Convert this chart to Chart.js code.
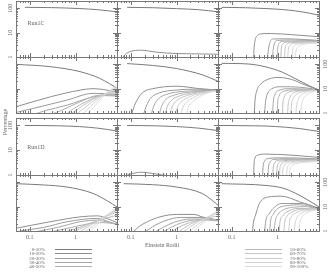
<!DOCTYPE html>
<html>
<head>
<meta charset="utf-8">
<script src="https://cdn.jsdelivr.net/npm/chart.js@4.4.0/dist/chart.umd.min.js"></script>
<style>
  body { margin: 0; width: 329px; height: 273px; background: #fff; position: relative; overflow: hidden;
         font-family: "Liberation Serif", serif; color: #666; }
  canvas { position: absolute; }
  .t { position: absolute; white-space: nowrap; line-height: 1; transform: translate(-50%, -50%); }
  .leg { position: absolute; height: 0; border-top: 1px solid #999; }
</style>
</head>
<body>
<script>
// ---- data ----
const seriesLabels = ["0-10%", "10-20%", "20-30%", "30-40%", "40-50%",
                      "50-60%", "60-70%", "70-80%", "80-90%", "90-100%"];
const seriesColors = ["#7a7a7a", "#8e8e8e", "#9a9a9a", "#a5a5a5", "#afafaf",
                      "#b9b9b9", "#c3c3c3", "#cbcbcb", "#d3d3d3", "#dadada"];
const runLabels = ["Run1C", "Run1D"];
const xTicks = [0.1, 1];
const xTickLabels = ["0.1", "1"];
const yTicks = [1, 10, 100];
const yTickLabels = ["1", "10", "100"];
const xRange = [0.05, 8];
const yRange = [1, 200];

// each panel: 10 series, each a list of [einstein radii, percentage]
const run1C_upper_a = [
  [[0.078,110],[0.3,107],[1.2,98],[3,88],[8,72]],
  [], [], [], [], [], [], [], [], []
];
const run1C_upper_b = [
  [[0.083,110],[0.3,106],[1,97],[3,88],[8,72]],
  [[0.065,0.9],[0.08,1.4],[0.17,1.9],[0.35,1.6],[0.6,1.45],[2,1.35],[8,1.3]],
  [], [], [], [], [], [], [], []
];
const run1C_upper_c = [
  [[0.06,110],[0.2,106],[0.53,98],[1.2,90],[2.5,78],[5,63],[8,52]],
  [[0.3,0.9],[0.305,2],[0.32,4.5],[0.36,7.5],[0.45,9],[0.7,9.2],[2,8.3],[8,6.8]],
  [[0.6,0.8],[0.63,2],[0.68,4],[0.8,5.5],[1.5,5.6],[4,5.2],[8,4.8]],
  [[0.77,0.8],[0.8,2],[0.86,3.8],[1,4.8],[2,5],[8,4.6]],
  [[0.97,0.8],[1,2],[1.08,3.6],[1.3,4.4],[3,4.5],[8,4.4]],
  [[1.17,0.8],[1.2,2],[1.3,3.4],[1.6,4.1],[4,4.3],[8,4.2]],
  [[1.42,0.8],[1.45,1.9],[1.57,3.2],[2,3.9],[8,4.1]],
  [[1.66,0.8],[1.7,1.8],[1.85,3],[2.4,3.7],[8,4]],
  [[2.05,0.8],[2.1,1.7],[2.3,2.8],[3,3.5],[8,3.9]],
  [[2.45,0.8],[2.5,1.6],[2.8,2.6],[3.6,3.3],[8,3.8]]
];
const run1C_lower_a = [
  [[0.05,100],[0.28,80],[1.25,50],[3.3,27],[5.5,16],[8,10.5]],
  [[0.05,1.8],[0.28,4.6],[1.25,8.7],[2.4,10],[4,9.2],[8,7.4]],
  [[0.05,1.05],[0.12,1.55],[0.65,3.4],[2.4,6.4],[4,6.3],[8,5.4]],
  [[0.13,0.9],[0.2,1.2],[0.65,2.1],[2.4,4.6],[4,5.2],[8,5]],
  [[0.3,0.9],[0.5,1.3],[1.25,2.9],[3.3,5.4],[8,5.6]],
  [[0.62,0.9],[0.9,1.5],[2,3.4],[4,5.6],[8,6.3]],
  [[0.78,0.9],[1.2,1.6],[2.5,3.8],[4.5,6.2],[8,7.5]],
  [[1.05,0.9],[1.6,1.7],[3,4],[5,7],[8,9]],
  [[1.4,0.9],[2.1,1.8],[3.5,4.4],[5.5,8],[8,11.5]],
  [[1.8,0.9],[2.6,1.9],[4,4.8],[6,9.5],[8,14]]
];
const run1C_lower_b = [
  [[0.083,107],[0.3,90],[1,67],[3.8,36],[8,20]],
  [[0.105,0.9],[0.12,2],[0.15,4.5],[0.19,7.4],[0.3,10],[1,12.6],[3.2,10],[8,8.7]],
  [[0.19,0.9],[0.22,2],[0.27,4],[0.4,6.5],[1,8.8],[3,9.5],[8,8.6]],
  [[0.28,0.9],[0.32,2],[0.4,3.8],[0.6,5.8],[1.5,7.8],[8,8.5]],
  [[0.42,0.9],[0.47,1.9],[0.58,3.6],[0.88,5.4],[2,7.3],[8,8.4]],
  [[0.56,0.9],[0.63,1.9],[0.78,3.4],[1.15,5],[2.5,7],[8,8.3]],
  [[0.72,0.9],[0.8,1.8],[1,3.2],[1.5,4.8],[3,6.8],[8,8.2]],
  [[0.95,0.9],[1.05,1.8],[1.3,3],[1.9,4.6],[3.5,6.7],[8,8.2]],
  [[1.25,0.9],[1.38,1.7],[1.7,2.9],[2.4,4.5],[4,6.6],[8,8.3]],
  [[1.65,0.9],[1.8,1.7],[2.2,2.8],[3,4.4],[4.6,6.6],[8,8.5]]
];
const run1C_lower_c = [
  [[0.06,110],[0.25,102],[0.53,80],[1.25,48],[2.5,25],[5,13],[8,8.5]],
  [[0.31,0.9],[0.32,3],[0.35,8],[0.42,15],[0.55,22],[1,29],[2,24],[4,14],[8,9]],
  [[0.52,0.9],[0.54,2.5],[0.6,6],[0.75,10],[1.2,12],[3,11.5],[8,9]],
  [[0.78,0.9],[0.8,2.5],[0.87,5.5],[1.05,8.5],[2,10],[8,9]],
  [[0.98,0.9],[1,2.4],[1.08,5],[1.3,7.5],[2.5,9],[8,8.9]],
  [[1.27,0.9],[1.3,2.3],[1.4,4.6],[1.7,7],[3,8.5],[8,8.8]],
  [[1.65,0.9],[1.7,2.2],[1.85,4.3],[2.2,6.6],[3.6,8.2],[8,8.8]],
  [[1.95,0.9],[2,2.1],[2.2,4],[2.7,6.2],[4.2,8],[8,8.7]],
  [[2.5,0.9],[2.6,2],[2.85,3.8],[3.4,5.8],[5,7.8],[8,8.6]],
  [[3.2,0.9],[3.3,1.9],[3.6,3.6],[4.3,5.5],[6,7.5],[8,8.4]]
];
const run1D_upper_a = [
  [[0.078,100],[0.4,97],[1.2,90],[3,78],[8,60]],
  [], [], [], [], [], [], [], [], []
];
const run1D_upper_b = [
  [[0.083,100],[0.4,96],[1,90],[3,78],[8,62]],
  [[0.07,0.9],[0.1,1.1],[0.17,1.3],[0.3,1.15],[0.5,1.0],[0.8,0.9]],
  [], [], [], [], [], [], [], []
];
const run1D_upper_c = [
  [[0.06,100],[0.3,97],[0.53,95],[1.5,85],[3,75],[8,57]],
  [[0.3,0.9],[0.305,2.5],[0.32,4.8],[0.37,6.3],[0.5,7],[1,6.8],[3,6],[8,5.1]],
  [[0.47,0.9],[0.48,2],[0.52,3.6],[0.62,4.6],[1,4.9],[3,4.8],[8,4.4]],
  [[0.62,0.9],[0.63,1.9],[0.68,3.3],[0.8,4.2],[1.5,4.5],[8,4.2]],
  [[0.79,0.9],[0.8,1.8],[0.86,3.1],[1,3.9],[2,4.2],[8,4.1]],
  [[0.95,0.9],[0.97,1.8],[1.04,2.9],[1.2,3.6],[2.5,4],[8,4]],
  [[1.1,0.9],[1.12,1.7],[1.2,2.7],[1.4,3.4],[3,3.9],[8,3.9]],
  [[1.28,0.9],[1.3,1.6],[1.4,2.5],[1.65,3.2],[3.5,3.7],[8,3.8]],
  [[1.57,0.9],[1.6,1.6],[1.72,2.4],[2,3],[4,3.5],[8,3.7]],
  [[1.82,0.9],[1.85,1.5],[2,2.2],[2.4,2.8],[4.5,3.3],[8,3.6]]
];
const run1D_lower_a = [
  [[0.05,88],[0.2,78],[0.65,64],[2.4,35],[5,17],[8,9.8]],
  [[0.05,1.3],[0.28,2.4],[1.25,3.8],[3,4.2],[5,3.2],[8,2.2]],
  [[0.06,1.0],[0.2,1.4],[0.65,2.4],[3,3.3],[5,2.5],[8,1.8]],
  [[0.14,0.95],[0.4,1.4],[1.25,2.4],[3,2.8],[5,2.3],[8,1.9]],
  [[0.32,0.95],[0.8,1.4],[2.4,2.1],[4,2.2],[8,2]],
  [[0.65,0.95],[1.2,1.4],[2.5,2.4],[5,3.5],[8,4.5]],
  [[0.88,0.95],[1.6,1.5],[3,2.8],[5.5,4.5],[8,6]],
  [[1.25,0.95],[2,1.6],[3.5,3.2],[6,5.5],[8,7]],
  [[1.6,0.95],[2.5,1.7],[4,3.6],[6.5,6.5],[8,8.5]],
  [[2,0.95],[3,1.8],[4.5,4],[7,7.5],[8,9.5]]
];
const run1D_lower_b = [
  [[0.07,88],[0.3,80],[1,64],[3.6,35],[6,18],[8,11.5]],
  [[0.115,0.95],[0.15,1.5],[0.23,2.4],[0.43,3.8],[1,4.8],[2.4,4.8],[3.6,3.8],[8,2.8]],
  [[0.21,0.95],[0.3,1.5],[0.55,2.6],[1.2,3.6],[3,3.6],[8,2.8]],
  [[0.35,0.95],[0.5,1.4],[0.9,2.3],[2,3.1],[4,3.1],[8,2.7]],
  [[0.53,0.95],[0.75,1.4],[1.3,2.2],[3,2.9],[8,2.6]],
  [[0.78,0.95],[1.1,1.4],[1.9,2.2],[4,2.9],[8,2.9]],
  [[1.15,0.95],[1.6,1.5],[2.6,2.4],[5,3.6],[8,4]],
  [[1.45,0.95],[2,1.5],[3.2,2.6],[5.5,4.2],[8,5.2]],
  [[1.9,0.95],[2.6,1.6],[4,2.8],[6,4.8],[8,6.4]],
  [[2.4,0.95],[3.2,1.7],[4.8,3],[6.8,5.5],[8,7.5]]
];
const run1D_lower_c = [
  [[0.06,88],[0.53,75],[1.3,58],[2.5,35],[5,17],[8,9.8]],
  [[0.28,0.9],[0.3,2.5],[0.33,4.5],[0.4,13.5],[0.63,25],[1.2,27],[3,16],[8,8.4]],
  [[0.52,0.9],[0.55,2.5],[0.65,5],[0.8,8.4],[1.2,13.5],[3.5,13.5],[8,8.4]],
  [[0.67,0.9],[0.7,2.5],[0.8,4.8],[1,8.4],[1.6,11],[3,12],[8,8.2]],
  [[0.84,0.9],[0.88,2.3],[1,4.5],[1.3,7.2],[2.2,9.5],[4,10],[8,8]],
  [[1.08,0.9],[1.12,2.2],[1.3,4.3],[1.6,6.1],[2.8,8.5],[8,7.9]],
  [[1.37,0.9],[1.42,2.1],[1.6,4],[2,5.8],[3.3,7.8],[8,7.8]],
  [[1.75,0.9],[1.8,2],[2,3.8],[2.5,5.5],[4,7.4],[8,7.8]],
  [[2.3,0.9],[2.4,1.9],[2.65,3.6],[3.2,5.2],[4.8,7],[8,7.7]],
  [[2.9,0.9],[3,1.8],[3.3,3.4],[4,5],[5.6,6.8],[8,7.6]]
];

const panels = [
  [run1C_upper_a, run1C_upper_b, run1C_upper_c],
  [run1C_lower_a, run1C_lower_b, run1C_lower_c],
  [run1D_upper_a, run1D_upper_b, run1D_upper_c],
  [run1D_lower_a, run1D_lower_b, run1D_lower_c]
];

// ---- layout ----
const M = 12;
const colL = [16, 117, 218], colW = 101;
const rowT = [1, 57, 118, 175], rowH = [56, 56, 57, 56];
const tickFont = '6px "Liberation Serif"';

// frame, inward ticks and tick labels, all placed through the chart's scales
const axesFrame = {
  id: "axesFrame",
  afterDraw(chart, args, o) {
    const { ctx, chartArea: a, scales: { x, y } } = chart;
    ctx.save();
    ctx.strokeStyle = "#777";
    ctx.lineWidth = 1;
    ctx.strokeRect(a.left + 0.5, a.top + 0.5, a.right - a.left, a.bottom - a.top);

    const marks = [];
    for (let e = -2; e <= 2; e++)
      for (let m = 1; m <= 9; m++) marks.push({ v: m * Math.pow(10, e), major: m === 1 });

    ctx.beginPath();
    marks.forEach(({ v, major }) => {
      const len = major ? 4 : 2;
      if (v >= xRange[0] * 0.999 && v <= xRange[1] * 1.001) {
        const px = Math.round(x.getPixelForValue(v)) + 0.5;
        ctx.moveTo(px, a.bottom); ctx.lineTo(px, a.bottom - len);
        ctx.moveTo(px, a.top); ctx.lineTo(px, a.top + len);
      }
      if (v >= yRange[0] * 0.999 && v <= yRange[1] * 1.001) {
        const py = Math.round(y.getPixelForValue(v)) + 0.5;
        ctx.moveTo(a.left, py); ctx.lineTo(a.left + len, py);
        ctx.moveTo(a.right, py); ctx.lineTo(a.right - len, py);
      }
    });
    ctx.stroke();

    ctx.fillStyle = "#666";
    ctx.font = tickFont;
    ctx.textAlign = "center";
    ctx.textBaseline = "middle";
    if (o.yLabels) {
      const lx = o.yLabels === "left" ? a.left - 6 : a.right + 6;
      yTicks.forEach((v, i) => {
        const py = y.getPixelForValue(v);
        ctx.save();
        ctx.translate(lx, py);
        ctx.rotate(-Math.PI / 2);
        ctx.fillText(yTickLabels[i], 0, 0);
        ctx.restore();
      });
    }
    if (o.xLabels) {
      xTicks.forEach((v, i) => {
        ctx.fillText(xTickLabels[i], x.getPixelForValue(v), a.bottom + 6);
      });
    }
    ctx.restore();
  }
};

const yLabelSide = [["left", null, null], [null, null, "right"], ["left", null, null], [null, null, "right"]];

panels.forEach((row, r) => {
  row.forEach((series, c) => {
    const cv = document.createElement("canvas");
    cv.width = colW + 2 * M;
    cv.height = rowH[r] + 2 * M;
    cv.style.left = (colL[c] - M) + "px";
    cv.style.top = (rowT[r] - M) + "px";
    document.body.appendChild(cv);

    new Chart(cv.getContext("2d"), {
      type: "line",
      data: {
        datasets: series.map((pts, i) => ({
          label: seriesLabels[i],
          data: pts.map(([px, py]) => ({ x: px, y: py })),
          borderColor: seriesColors[i],
          borderWidth: 1,
          pointRadius: 0,
          fill: false,
          cubicInterpolationMode: "monotone",
          clip: 0,
          order: -i
        }))
      },
      options: {
        responsive: false,
        animation: false,
        devicePixelRatio: 1,
        layout: { padding: M },
        plugins: {
          legend: { display: false },
          tooltip: { enabled: false },
          axesFrame: { yLabels: yLabelSide[r][c], xLabels: r === 3 }
        },
        scales: {
          x: { type: "logarithmic", min: xRange[0], max: xRange[1], display: false },
          y: { type: "logarithmic", min: yRange[0], max: yRange[1], display: false }
        }
      },
      plugins: [axesFrame]
    });
  });
});

// ---- titles and legend ----
function addText(txt, x, y, size, rot) {
  const d = document.createElement("div");
  d.className = "t";
  d.textContent = txt;
  d.style.left = x + "px";
  d.style.top = y + "px";
  d.style.fontSize = size + "px";
  if (rot) d.style.transform = "translate(-50%, -50%) rotate(-90deg)";
  document.body.appendChild(d);
}
addText(runLabels[0], 36, 23, 6);
addText(runLabels[1], 36, 147, 6);
addText("Percentage", 5, 122, 6, true);
addText("Einstein Radii", 162, 245, 6);

seriesLabels.forEach((lab, i) => {
  const left = i < 5;
  const row = i % 5;
  const yy = 249 + row * 4.3;
  const ln = document.createElement("div");
  ln.className = "leg";
  ln.style.left = (left ? 55 : 245) + "px";
  ln.style.width = "37px";
  ln.style.top = Math.round(yy) + "px";
  ln.style.borderTopColor = seriesColors[i];
  document.body.appendChild(ln);

  const d = document.createElement("div");
  d.className = "t";
  d.textContent = lab;
  d.style.fontSize = "5px";
  d.style.top = yy + "px";
  d.style.left = (left ? 45 : 290) + "px";
  d.style.transform = left ? "translate(-100%, -50%)" : "translate(0, -50%)";
  document.body.appendChild(d);
});
</script>
</body>
</html>
